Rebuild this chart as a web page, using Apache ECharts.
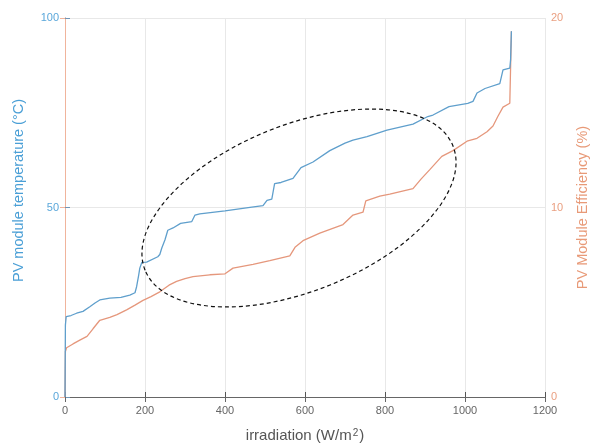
<!DOCTYPE html>
<html>
<head>
<meta charset="utf-8">
<script src="https://cdn.jsdelivr.net/npm/echarts@6/dist/echarts.min.js"></script>
<style>
  html, body { margin: 0; padding: 0; background: #fff; }
  #main { width: 592px; height: 448px; }
</style>
</head>
<body>
<div id="main"></div>
<script>
// irradiation (W/m2) vs module temperature (left axis)
var tempPoints = [
  [0, 0], [1, 19], [3, 21.2], [15, 21.5], [29, 22.1], [45, 22.6], [62, 23.8], [75, 24.8],
  [87, 25.6], [112, 26.1], [140, 26.3], [162, 26.9], [175, 27.5], [179, 29.1], [184, 32],
  [187, 34], [192, 35.5], [204, 35.6], [232, 37], [237, 37.6], [242, 39.3], [250, 41.5],
  [257, 44], [270, 44.6], [289, 45.8], [317, 46.3], [325, 48], [337, 48.3], [400, 49.1],
  [467, 50.1], [495, 50.5], [505, 51.9], [517, 52.2], [524, 56.3], [540, 56.6], [570, 57.7],
  [590, 60.5], [620, 62], [662, 65], [700, 67], [720, 67.8], [755, 68.7], [805, 70.4],
  [870, 72], [907, 74], [920, 74.4], [960, 76.6], [1007, 77.5], [1020, 78], [1030, 80.2],
  [1050, 81.4], [1087, 82.7], [1095, 86.3], [1112, 86.8], [1114, 89], [1116, 96.5]
];
// irradiation vs module efficiency (right axis)
var effPoints = [
  [0, 0], [1, 2.4], [4, 2.6], [20, 2.8], [37, 3.0], [55, 3.2], [70, 3.6], [87, 4.05],
  [112, 4.2], [130, 4.35], [154, 4.6], [175, 4.85], [195, 5.1], [215, 5.3], [237, 5.55],
  [260, 5.9], [279, 6.1], [300, 6.25], [320, 6.35], [362, 6.45], [400, 6.5], [420, 6.8],
  [470, 7.0], [512, 7.2], [562, 7.45], [575, 7.9], [595, 8.25], [637, 8.65], [695, 9.1],
  [720, 9.6], [745, 9.75], [752, 10.35], [787, 10.6], [812, 10.7], [870, 11.0], [890, 11.5],
  [912, 12.0], [942, 12.7], [970, 13.0], [1005, 13.5], [1030, 13.65], [1055, 14.0],
  [1070, 14.3], [1082, 14.8], [1095, 15.3], [1112, 15.5], [1116, 19.3]
];
var xTicks = [0, 200, 400, 600, 800, 1000, 1200];
var tempTicks = [0, 50, 100];
var effTicks = [0, 10, 20];

var blue = '#5f9fcc';
var orange = '#e5977c';
var font = 'Liberation Sans';

var chart = echarts.init(document.getElementById('main'));

chart.setOption({
  animation: false,
  textStyle: { fontFamily: font },
  grid: { left: 65, right: 47, top: 18, bottom: 51, containLabel: false, outerBoundsMode: 'none' },
  xAxis: [{
    type: 'value',
    min: xTicks[0], max: xTicks[xTicks.length - 1], interval: 200,
    name: 'irradiation (W/m{sup|2})',
    nameLocation: 'middle', nameGap: 31,
    nameTextStyle: {
      color: '#555', fontSize: 15, fontFamily: font,
      rich: { sup: { fontSize: 10, verticalAlign: 'top', padding: [0, 1, 6, 1], color: '#555' } }
    },
    axisLine: { lineStyle: { color: '#555', width: 1 } },
    axisTick: { inside: true, length: 5, lineStyle: { color: '#555' } },
    axisLabel: { color: '#666', fontSize: 11, margin: 8, formatter: function (v) { return String(v); } },
    splitLine: { show: true, lineStyle: { color: '#e8e8e8' } }
  }, {
    type: 'value', position: 'top',
    min: xTicks[0], max: xTicks[xTicks.length - 1], interval: 200,
    axisLine: { lineStyle: { color: '#666', width: 1 } },
    axisTick: { inside: true, length: 5, lineStyle: { color: '#666' } },
    axisLabel: { show: false },
    splitLine: { show: false }
  }],
  yAxis: [{
    type: 'value', position: 'left',
    min: tempTicks[0], max: tempTicks[tempTicks.length - 1], interval: 50,
    name: 'PV module temperature (°C)',
    nameLocation: 'middle', nameGap: 39, nameRotate: 90,
    nameTextStyle: { color: '#4a9fd6', fontSize: 14.5, fontFamily: font, padding: [0, 0, 0, 34] },
    axisLine: { show: true, lineStyle: { color: '#6f96b8', width: 1 } },
    axisTick: { show: true, inside: true, length: 5, lineStyle: { color: '#6f96b8' } },
    axisLabel: { color: '#5aa7da', fontSize: 11, margin: 6 },
    splitLine: { show: true, lineStyle: { color: '#e8e8e8' } }
  }, {
    type: 'value', position: 'right',
    min: effTicks[0], max: effTicks[effTicks.length - 1], interval: 10,
    name: 'PV Module Efficiency (%)',
    nameLocation: 'middle', nameGap: 30, nameRotate: 90,
    nameTextStyle: { color: '#e89a78', fontSize: 14.5, fontFamily: font },
    axisLine: { show: true, lineStyle: { color: '#f0b49c', width: 1 } },
    axisTick: { show: true, inside: true, length: 5, lineStyle: { color: '#f0b49c' } },
    axisLabel: { color: '#eaa082', fontSize: 11, margin: 6 },
    splitLine: { show: false }
  }],
  series: [{
    name: 'temperature',
    type: 'line',
    yAxisIndex: 0,
    data: tempPoints,
    showSymbol: false,
    lineStyle: { color: blue, width: 1.3 },
    itemStyle: { color: blue },
    z: 3
  }, {
    name: 'efficiency',
    type: 'line',
    yAxisIndex: 1,
    data: effPoints,
    showSymbol: false,
    lineStyle: { color: orange, width: 1.3 },
    itemStyle: { color: orange },
    z: 2
  }],
  graphic: [{
    type: 'ellipse',
    x: 299, y: 208,
    rotation: 22 * Math.PI / 180,
    shape: { cx: 0, cy: 0, rx: 166, ry: 83 },
    style: { fill: null, stroke: '#111', lineWidth: 1.2, lineDash: [4, 3] },
    z: 10
  }]
});
</script>
</body>
</html>
